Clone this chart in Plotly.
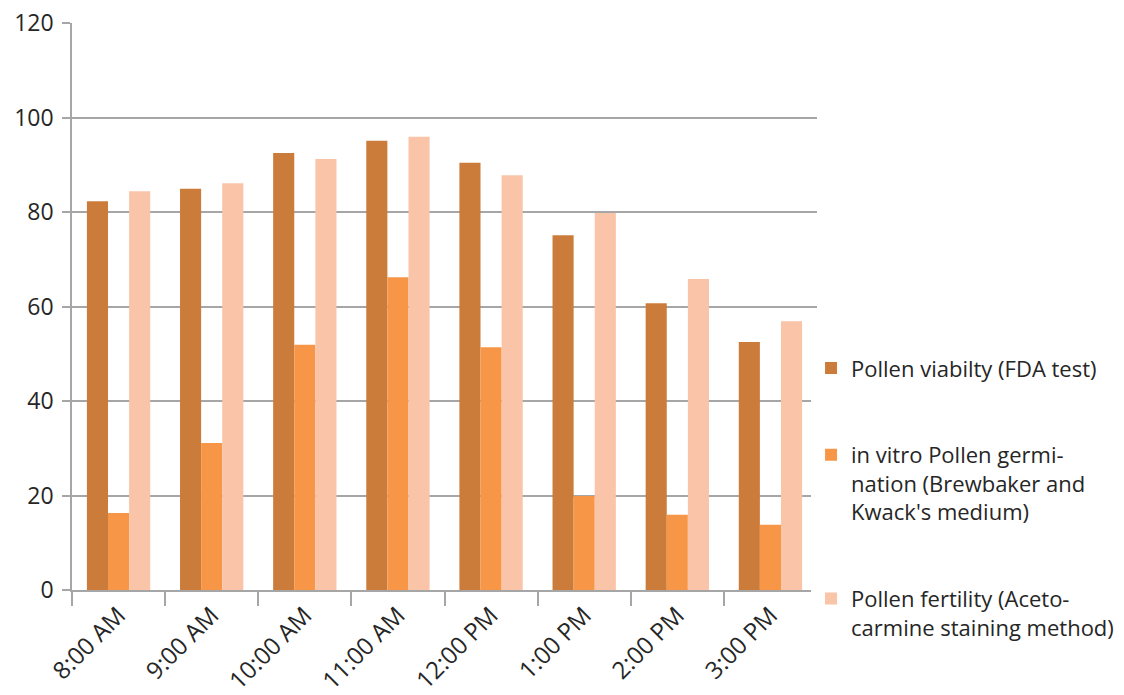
import plotly.graph_objects as go

categories = ["8:00 AM", "9:00 AM", "10:00 AM", "11:00 AM", "12:00 PM", "1:00 PM", "2:00 PM", "3:00 PM"]
viability = [82.3, 84.9, 92.5, 95.1, 90.4, 75.1, 60.7, 52.5]
germination = [16.3, 31.1, 51.9, 66.2, 51.4, 19.9, 15.9, 13.8]
fertility = [84.4, 86.1, 91.2, 95.9, 87.8, 79.8, 65.8, 56.9]
series_names = [
    "Pollen viabilty (FDA test)",
    "in vitro Pollen germi-<br>nation (Brewbaker and<br>Kwack's medium)",
    "Pollen fertility (Aceto-<br>carmine staining method)",
]
colors = ["#CB7C3A", "#F79646", "#F9C4A8"]
y_ticks = [0, 20, 40, 60, 80, 100, 120]

fig = go.Figure()
for i, (name, vals) in enumerate(zip(series_names, [viability, germination, fertility])):
    fig.add_trace(go.Bar(
        x=categories, y=vals, name=name, legendgroup=str(i),
        marker=dict(color=colors[i], line=dict(width=0)),
    ))

font = "'Open Sans', sans-serif"
txt = "#262626"
fig.update_layout(
    width=1124, height=695,
    margin=dict(l=72, r=307, t=23, b=105, autoexpand=False),
    paper_bgcolor="white", plot_bgcolor="white",
    barmode="group", bargap=0.32, bargroupgap=0,
    font=dict(family=font, size=22, color=txt),
    legend=dict(
        x=0.992, xanchor="left", y=0.428, yanchor="top",
        valign="top", tracegroupgap=55,
        font=dict(family=font, size=22, color=txt),
    ),
    showlegend=True,
)
fig.update_yaxes(
    range=[0, 120], tickvals=y_ticks, automargin=False,
    showgrid=True, gridcolor="#A6A6A6", gridwidth=1.5,
    showline=True, linecolor="#A6A6A6", linewidth=1.5,
    ticks="outside", ticklen=8, tickcolor="#A6A6A6", tickwidth=1.5,
    ticklabelstandoff=4,
    zeroline=False, tickfont=dict(size=23, color=txt),
)
fig.update_xaxes(
    tickangle=-45, tickson="boundaries", automargin=False,
    showline=True, linecolor="#A6A6A6", linewidth=1.5,
    ticks="outside", ticklen=14, tickcolor="#A6A6A6", tickwidth=1.5,
    tickfont=dict(size=24, color=txt),
)
fig.write_html("out.html")
